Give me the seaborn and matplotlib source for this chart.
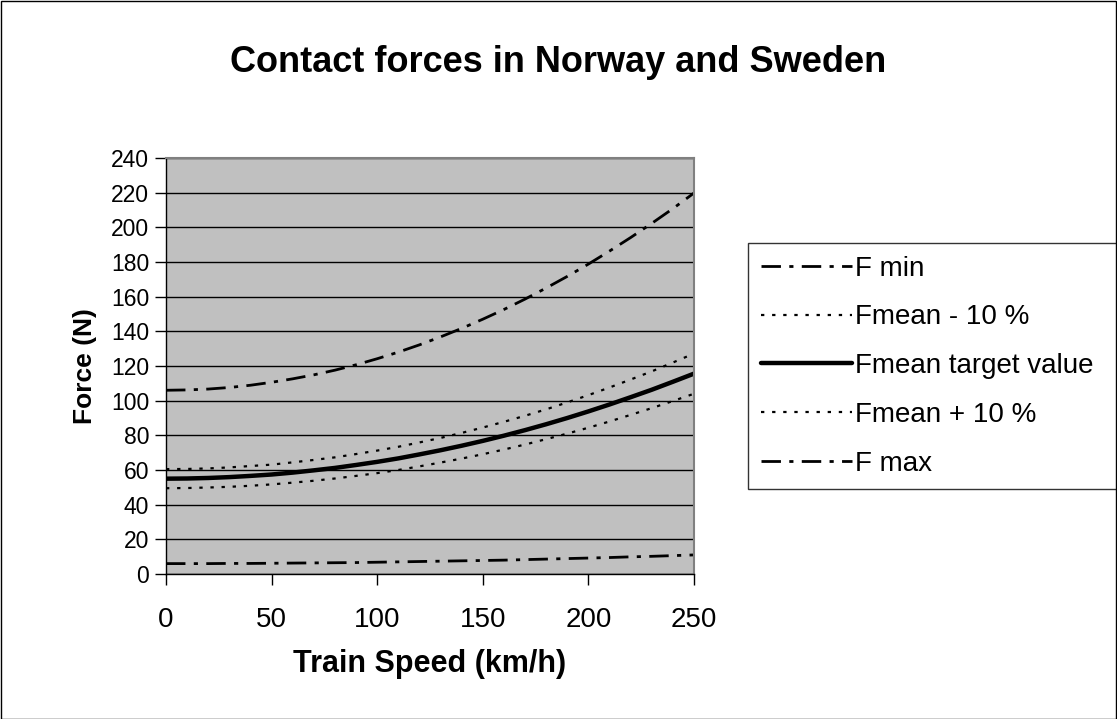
import numpy as np
import pandas as pd
import matplotlib
matplotlib.use('Agg')
import matplotlib.pyplot as plt
import seaborn as sns
from matplotlib.patches import Rectangle

# values, every 10 km/h
speed = [0, 10, 20, 30, 40, 50, 60, 70, 80, 90, 100, 110, 120,
         130, 140, 150, 160, 170, 180, 190, 200, 210, 220, 230, 240, 250]
f_min = [6.0, 6.0, 6.0, 6.1, 6.1, 6.2, 6.3, 6.4, 6.5, 6.6, 6.8, 7.0, 7.2,
         7.4, 7.6, 7.8, 8.0, 8.3, 8.6, 8.9, 9.2, 9.5, 9.9, 10.2, 10.6, 11.0]
f_mean_minus = [49.5, 49.6, 49.9, 50.3, 50.9, 51.7, 52.7, 53.8, 55.1, 56.6, 58.2, 60.0, 62.1,
                64.3, 66.6, 69.1, 71.8, 74.7, 77.8, 81.0, 84.4, 88.0, 91.8, 95.7, 99.8, 104.0]
f_mean = [55.0, 55.1, 55.4, 55.9, 56.6, 57.4, 58.5, 59.8, 61.2, 62.9, 64.7, 66.7, 69.0,
          71.4, 74.0, 76.8, 79.8, 83.0, 86.4, 90.0, 93.8, 97.8, 102.0, 106.3, 110.9, 115.6]
f_mean_plus = [60.5, 60.6, 60.9, 61.5, 62.3, 63.1, 64.4, 65.8, 67.3, 69.2, 71.2, 73.4, 75.9,
               78.5, 81.4, 84.5, 87.8, 91.3, 95.0, 99.0, 103.2, 107.6, 112.2, 116.9, 122.0, 127.2]
f_max = [106.0, 106.2, 106.7, 107.6, 108.9, 110.6, 112.6, 114.9, 117.6, 120.7, 124.2, 128.0, 132.2,
         136.8, 141.7, 147.0, 152.6, 158.6, 165.0, 171.7, 178.8, 186.3, 194.1, 202.3, 210.8, 219.8]

series_names = ['F min', 'Fmean - 10 %', 'Fmean target value', 'Fmean + 10 %', 'F max']
x_ticks = [0, 50, 100, 150, 200, 250]
y_ticks = list(range(0, 241, 20))

df = pd.DataFrame({'speed': speed, 'F min': f_min, 'Fmean - 10 %': f_mean_minus,
                   'Fmean target value': f_mean, 'Fmean + 10 %': f_mean_plus, 'F max': f_max})
long = df.melt(id_vars='speed', var_name='series', value_name='force')

sns.set_style('white')
plt.rcParams['font.family'] = ['Liberation Sans', 'DejaVu Sans']
plt.rcParams['text.color'] = 'black'
plt.rcParams['axes.labelcolor'] = 'black'
plt.rcParams['xtick.color'] = 'black'
plt.rcParams['ytick.color'] = 'black'

fig = plt.figure(figsize=(11.17, 7.19), dpi=100)
ax = fig.add_axes([166 / 1117, 1 - 574 / 719, (694 - 166) / 1117, (574 - 158) / 719])

dashdot = (0, (7, 3, 1.5, 3))
dotted = (0, (1.5, 3.5))
styles = {'F min': dashdot, 'Fmean - 10 %': dotted, 'Fmean target value': '-',
          'Fmean + 10 %': dotted, 'F max': dashdot}
widths = {'F min': 2.0, 'Fmean - 10 %': 1.6, 'Fmean target value': 3.2,
          'Fmean + 10 %': 1.6, 'F max': 2.0}

for name in series_names:
    sub = long[long['series'] == name]
    sns.lineplot(data=sub, x='speed', y='force', ax=ax, color='black',
                 linestyle=styles[name], linewidth=widths[name], label=name)

ax.set_facecolor('#C0C0C0')
ax.set_xlim(0, 250)
ax.set_ylim(0, 240)
ax.set_xticks(x_ticks)
ax.set_yticks(y_ticks)
ax.yaxis.grid(True, color='black', linewidth=1)
ax.set_axisbelow(True)
ax.tick_params(axis='x', labelsize=20, length=8, width=1, direction='out', pad=16, bottom=True)
ax.tick_params(axis='y', labelsize=16.5, length=8, width=1, direction='out', pad=4, left=True)
for s in ['top', 'right']:
    ax.spines[s].set_color('#808080')
    ax.spines[s].set_linewidth(1.5)
for s in ['left', 'bottom']:
    ax.spines[s].set_color('black')
    ax.spines[s].set_linewidth(1)

ax.set_xlabel('Train Speed (km/h)', fontsize=22, fontweight='bold', labelpad=11)
ax.set_ylabel('Force (N)', fontsize=19, fontweight='bold', labelpad=10)

fig.text(0.5, 1 - 63 / 719, 'Contact forces in Norway and Sweden', ha='center', va='center',
         fontsize=26, fontweight='bold')

leg = ax.legend(loc='upper left', bbox_to_anchor=(748 / 1117, 1 - 243 / 719, 380 / 1117, 0),
                bbox_transform=fig.transFigure, mode='expand', frameon=True, fancybox=False,
                fontsize=20, handlelength=3.3, handletextpad=0.1, labelspacing=0.82,
                borderpad=0.45, borderaxespad=0, edgecolor='black')
leg.get_frame().set_linewidth(1)

fig.patches.append(Rectangle((0.5 / 1117, 0.5 / 719), 1 - 1.5 / 1117, 1 - 1.5 / 719,
                             transform=fig.transFigure, fill=False, edgecolor='black', linewidth=1))

fig.savefig('out.png', dpi=100)
